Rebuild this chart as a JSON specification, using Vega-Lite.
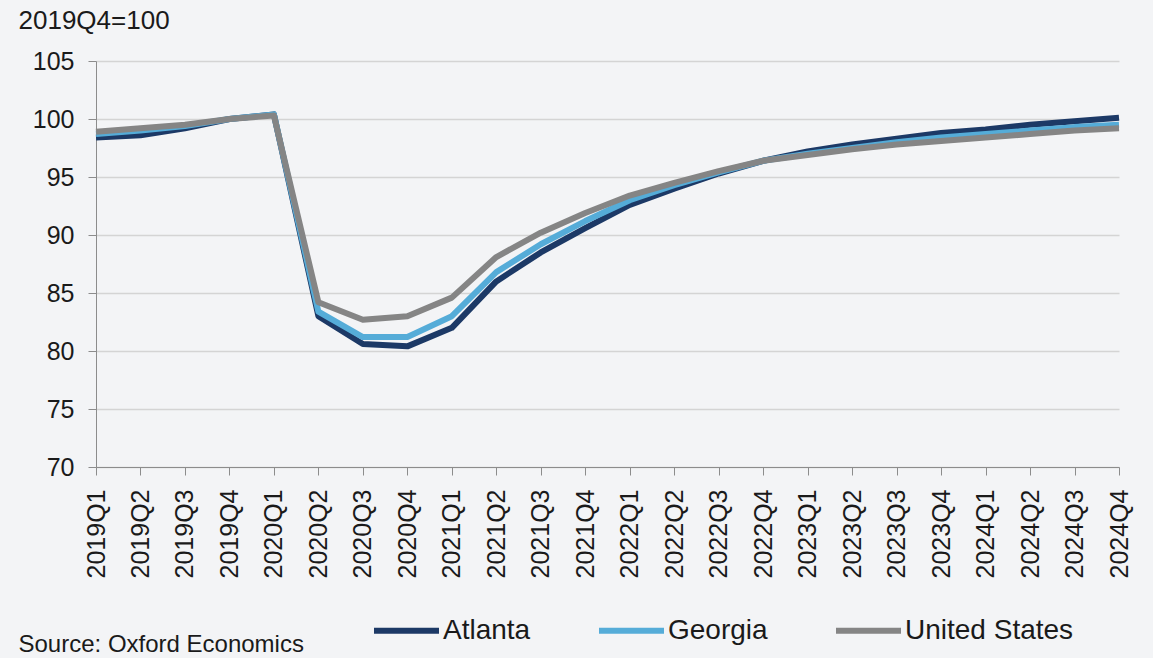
{
  "$schema": "https://vega.github.io/schema/vega-lite/v6.json",
  "width": 1023,
  "height": 406,
  "autosize": {"type": "none"},
  "padding": {"left": 96, "top": 61, "right": 34, "bottom": 191},
  "background": "#f3f4f6",
  "config": {"font": "Liberation Sans", "view": {"stroke": null}},
  "data": {"values": [
    {"quarter": "2019Q1", "region": "Atlanta", "value": 98.4},
    {"quarter": "2019Q2", "region": "Atlanta", "value": 98.6},
    {"quarter": "2019Q3", "region": "Atlanta", "value": 99.2},
    {"quarter": "2019Q4", "region": "Atlanta", "value": 100.0},
    {"quarter": "2020Q1", "region": "Atlanta", "value": 100.4},
    {"quarter": "2020Q2", "region": "Atlanta", "value": 83.0},
    {"quarter": "2020Q3", "region": "Atlanta", "value": 80.6},
    {"quarter": "2020Q4", "region": "Atlanta", "value": 80.4},
    {"quarter": "2021Q1", "region": "Atlanta", "value": 82.0},
    {"quarter": "2021Q2", "region": "Atlanta", "value": 86.0},
    {"quarter": "2021Q3", "region": "Atlanta", "value": 88.5},
    {"quarter": "2021Q4", "region": "Atlanta", "value": 90.6},
    {"quarter": "2022Q1", "region": "Atlanta", "value": 92.6},
    {"quarter": "2022Q2", "region": "Atlanta", "value": 94.0},
    {"quarter": "2022Q3", "region": "Atlanta", "value": 95.3},
    {"quarter": "2022Q4", "region": "Atlanta", "value": 96.4},
    {"quarter": "2023Q1", "region": "Atlanta", "value": 97.2},
    {"quarter": "2023Q2", "region": "Atlanta", "value": 97.8},
    {"quarter": "2023Q3", "region": "Atlanta", "value": 98.3},
    {"quarter": "2023Q4", "region": "Atlanta", "value": 98.8},
    {"quarter": "2024Q1", "region": "Atlanta", "value": 99.1},
    {"quarter": "2024Q2", "region": "Atlanta", "value": 99.5},
    {"quarter": "2024Q3", "region": "Atlanta", "value": 99.8},
    {"quarter": "2024Q4", "region": "Atlanta", "value": 100.1},
    {"quarter": "2019Q1", "region": "Georgia", "value": 98.7},
    {"quarter": "2019Q2", "region": "Georgia", "value": 99.0},
    {"quarter": "2019Q3", "region": "Georgia", "value": 99.4},
    {"quarter": "2019Q4", "region": "Georgia", "value": 100.0},
    {"quarter": "2020Q1", "region": "Georgia", "value": 100.4},
    {"quarter": "2020Q2", "region": "Georgia", "value": 83.4},
    {"quarter": "2020Q3", "region": "Georgia", "value": 81.2},
    {"quarter": "2020Q4", "region": "Georgia", "value": 81.2},
    {"quarter": "2021Q1", "region": "Georgia", "value": 83.0},
    {"quarter": "2021Q2", "region": "Georgia", "value": 86.8},
    {"quarter": "2021Q3", "region": "Georgia", "value": 89.2},
    {"quarter": "2021Q4", "region": "Georgia", "value": 91.2},
    {"quarter": "2022Q1", "region": "Georgia", "value": 93.0},
    {"quarter": "2022Q2", "region": "Georgia", "value": 94.3},
    {"quarter": "2022Q3", "region": "Georgia", "value": 95.4},
    {"quarter": "2022Q4", "region": "Georgia", "value": 96.4},
    {"quarter": "2023Q1", "region": "Georgia", "value": 97.0},
    {"quarter": "2023Q2", "region": "Georgia", "value": 97.5},
    {"quarter": "2023Q3", "region": "Georgia", "value": 98.0},
    {"quarter": "2023Q4", "region": "Georgia", "value": 98.4},
    {"quarter": "2024Q1", "region": "Georgia", "value": 98.7},
    {"quarter": "2024Q2", "region": "Georgia", "value": 99.0},
    {"quarter": "2024Q3", "region": "Georgia", "value": 99.3},
    {"quarter": "2024Q4", "region": "Georgia", "value": 99.5},
    {"quarter": "2019Q1", "region": "United States", "value": 98.9},
    {"quarter": "2019Q2", "region": "United States", "value": 99.2},
    {"quarter": "2019Q3", "region": "United States", "value": 99.5},
    {"quarter": "2019Q4", "region": "United States", "value": 100.0},
    {"quarter": "2020Q1", "region": "United States", "value": 100.3},
    {"quarter": "2020Q2", "region": "United States", "value": 84.2},
    {"quarter": "2020Q3", "region": "United States", "value": 82.7},
    {"quarter": "2020Q4", "region": "United States", "value": 83.0},
    {"quarter": "2021Q1", "region": "United States", "value": 84.6},
    {"quarter": "2021Q2", "region": "United States", "value": 88.1},
    {"quarter": "2021Q3", "region": "United States", "value": 90.2},
    {"quarter": "2021Q4", "region": "United States", "value": 91.9},
    {"quarter": "2022Q1", "region": "United States", "value": 93.4},
    {"quarter": "2022Q2", "region": "United States", "value": 94.5},
    {"quarter": "2022Q3", "region": "United States", "value": 95.5},
    {"quarter": "2022Q4", "region": "United States", "value": 96.4},
    {"quarter": "2023Q1", "region": "United States", "value": 96.9},
    {"quarter": "2023Q2", "region": "United States", "value": 97.4},
    {"quarter": "2023Q3", "region": "United States", "value": 97.8},
    {"quarter": "2023Q4", "region": "United States", "value": 98.1},
    {"quarter": "2024Q1", "region": "United States", "value": 98.4},
    {"quarter": "2024Q2", "region": "United States", "value": 98.7},
    {"quarter": "2024Q3", "region": "United States", "value": 99.0},
    {"quarter": "2024Q4", "region": "United States", "value": 99.2}
  ]},
  "mark": {"type": "line", "interpolate": "linear", "strokeWidth": 6, "strokeJoin": "round"},
  "encoding": {
    "x": {
      "field": "quarter", "type": "ordinal", "sort": null,
      "scale": {"type": "point", "padding": 0},
      "axis": {
        "labelAngle": -90, "labelFontSize": 25, "labelColor": "#1a1a1a", "labelPadding": 14,
        "tickSize": 8, "tickColor": "#8c8c8c", "domainColor": "#8c8c8c", "grid": false,
        "title": "Source: Oxford Economics", "titleFontSize": 24, "titleFontWeight": "normal",
        "titleColor": "#1a1a1a", "titleAlign": "left", "titleAnchor": "start", "titleAngle": 0,
        "titleBaseline": "middle", "titleX": -78, "titleY": 177
      }
    },
    "y": {
      "field": "value", "type": "quantitative",
      "scale": {"domain": [70, 105], "nice": false, "zero": false},
      "axis": {
        "values": [70, 75, 80, 85, 90, 95, 100, 105],
        "labelFontSize": 25, "labelColor": "#1a1a1a", "labelPadding": 14,
        "tickSize": 8, "tickColor": "#8c8c8c", "domainColor": "#8c8c8c",
        "grid": true, "gridColor": "#d4d4d4", "gridWidth": 1.5,
        "title": "2019Q4=100", "titleFontSize": 26, "titleFontWeight": "normal",
        "titleColor": "#1a1a1a", "titleAngle": 0, "titleAlign": "left", "titleAnchor": "start",
        "titleBaseline": "middle", "titleX": -78, "titleY": -41
      }
    },
    "color": {
      "field": "region", "type": "nominal",
      "scale": {"domain": ["Atlanta", "Georgia", "United States"], "range": ["#1c3966", "#55acd8", "#858585"]},
      "legend": {
        "orient": "none", "legendX": 275, "legendY": 534, "direction": "horizontal",
        "title": null, "symbolType": "stroke", "symbolSize": 4225, "symbolStrokeWidth": 6,
        "labelFontSize": 28, "labelColor": "#1a1a1a", "labelOffset": 1, "columnPadding": 56, "labelLimit": 300
      }
    }
  }
}
